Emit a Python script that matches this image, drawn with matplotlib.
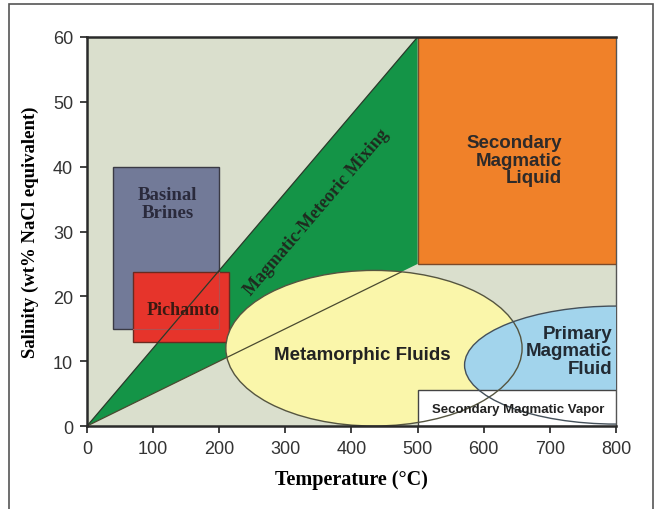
# fluid inclusion salinity vs temperature field diagram
import matplotlib.pyplot as plt
from matplotlib.patches import Rectangle, Ellipse, Polygon

# field outlines (temperature in C, salinity in wt% NaCl eq.)
mixing_x = [0, 500, 500]
mixing_y = [0, 60, 25]
basinal_box = [40, 15, 200, 40]        # x0, y0, x1, y1
pichamto_box = [70, 13, 215, 23.7]
sec_liquid_box = [500, 25, 800, 60]
sec_vapor_box = [500, 0, 800, 5.5]
meta_ellipse = [434, 12, 448, 24]       # cx, cy, width, height
primary_ellipse = [800, 9.4, 458, 18.2]

x_ticks = [0, 100, 200, 300, 400, 500, 600, 700, 800]
y_ticks = [0, 10, 20, 30, 40, 50, 60]

serif = "Liberation Serif"
sans = "Liberation Sans"

fig = plt.figure(figsize=(6.61, 5.10), dpi=100)
ax = fig.add_axes([0.1316, 0.1627, 0.8003, 0.7628])

# outer frame
fig.patches.append(Rectangle((0.0136, -0.05), 0.974, 1.04, transform=fig.transFigure,
                             fill=False, edgecolor="#555555", lw=1.2))

ax.set_facecolor("#dadfcd")
ax.set_xlim(0, 800)
ax.set_ylim(0, 60)

def box(b, fc, ec, z, lw=1.0):
    ax.add_patch(Rectangle((b[0], b[1]), b[2] - b[0], b[3] - b[1],
                           facecolor=fc, edgecolor=ec, lw=lw, zorder=z))

ax.add_patch(Polygon(list(zip(mixing_x, mixing_y)), closed=True,
                     facecolor="#149447", edgecolor="none", zorder=1))
box(basinal_box, "#727a98", "#3a3a44", 2)
box(pichamto_box, "#e6342b", "#6a2a20", 3)
# faint edges of the basinal box through the red box
ax.plot([pichamto_box[0], basinal_box[2], basinal_box[2]],
        [basinal_box[1], basinal_box[1], pichamto_box[3]],
        color="#b05050", lw=0.8, zorder=3.5)
# upper mixing line
ax.plot([mixing_x[0], mixing_x[1]], [mixing_y[0], mixing_y[1]],
        color="#2a3a2a", lw=0.9, zorder=3.6)

ax.add_patch(Ellipse((meta_ellipse[0], meta_ellipse[1]), meta_ellipse[2], meta_ellipse[3],
                     facecolor="#faf6aa", edgecolor="none", zorder=4))
# lower mixing line, drawn through the ellipse
ax.plot([0, 475], [0, 475 * mixing_y[2] / mixing_x[2]], color="#4a4a30", lw=0.9, zorder=4.5)

box(sec_liquid_box, "#f08129", "#7a4a2a", 5)
ax.add_patch(Ellipse((primary_ellipse[0], primary_ellipse[1]), primary_ellipse[2], primary_ellipse[3],
                     facecolor="#a2d4ec", edgecolor="none", zorder=6))
box(sec_vapor_box, "white", "#444444", 7)

# outlines on top
ax.add_patch(Ellipse((meta_ellipse[0], meta_ellipse[1]), meta_ellipse[2], meta_ellipse[3],
                     facecolor="none", edgecolor="#555540", lw=1.0, zorder=8))
ax.add_patch(Ellipse((primary_ellipse[0], primary_ellipse[1]), primary_ellipse[2], primary_ellipse[3],
                     facecolor="none", edgecolor="#44505a", lw=1.0, zorder=8))

# labels
ax.text(122, 34.3, "Basinal\nBrines", family=serif, weight="bold", fontsize=13.5,
        color="#2a2a3c", ha="center", va="center", zorder=10, linespacing=1.1)
ax.text(146, 17.9, "Pichamto", family=serif, weight="bold", fontsize=13,
        color="#3a1a12", ha="center", va="center", zorder=10)
ax.text(348, 33.0, "Magmatic-Meteoric Mixing", family=serif, weight="bold", fontsize=13,
        color="#1f2a1f", ha="center", va="center", rotation=49.5,
        rotation_mode="anchor", zorder=10)
ax.text(718, 41, "Secondary\nMagmatic\nLiquid", family=sans, weight="bold", fontsize=13.5,
        color="#2d2a2a", ha="right", va="center", zorder=10, linespacing=1.05)
ax.text(417, 11.1, "Metamorphic Fluids", family=sans, weight="bold", fontsize=13.5,
        color="#222222", ha="center", va="center", zorder=10)
ax.text(794, 11.6, "Primary\nMagmatic\nFluid", family=sans, weight="bold", fontsize=13.5,
        color="#222a33", ha="right", va="center", zorder=10, linespacing=1.05)
ax.text(652, 2.6, "Secondary Magmatic Vapor", family=sans, weight="bold", fontsize=9.5,
        color="#222222", ha="center", va="center", zorder=10)

ax.set_xticks(x_ticks)
ax.set_yticks(y_ticks)
ax.tick_params(direction="out", length=5, width=1.3, color="#333333", pad=5,
               labelsize=13, labelcolor="#333333")
for lab in ax.get_xticklabels() + ax.get_yticklabels():
    lab.set_family(sans)

for side in ["left", "bottom", "top"]:
    ax.spines[side].set_linewidth(1.8)
    ax.spines[side].set_color("#2a2a2a")
    ax.spines[side].set_zorder(9)
ax.spines["right"].set_linewidth(1.0)
ax.spines["right"].set_color("#555555")

ax.set_xlabel("Temperature (\u00b0C)", family=serif, weight="bold", fontsize=14.5, labelpad=9)
ax.set_ylabel("Salinity (wt% NaCl equivalent)", family=serif, weight="bold", fontsize=13.5, labelpad=10)

plt.savefig("out.png", dpi=100)
